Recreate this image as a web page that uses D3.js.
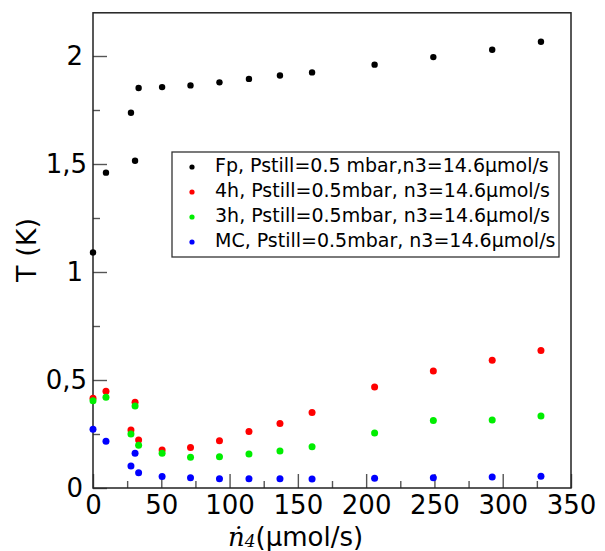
<!DOCTYPE html>
<head>
    <meta charset="utf-8">
    <style>
        body {
            margin: 0;
            background-color: #fff;
        }

        svg text {
            font-family: "DejaVu Sans", sans-serif;
            fill: #000;
        }
    </style>
</head>

<body>
    <div id="chart-area"></div>

    <script src="https://cdnjs.cloudflare.com/ajax/libs/d3/7.8.5/d3.min.js"></script>
    <script>
        // flow rate n4 (umol/s), shared by all four series
        var flow = [0, 9.5, 27.8, 30.8, 33.4, 50.6, 71.4, 92.6, 114.2, 136.9, 160.4, 206.2, 249.2, 292.3, 328]

        var tFp = [1.09, 1.46, 1.737, 1.515, 1.852, 1.856, 1.864, 1.878, 1.894, 1.910, 1.924, 1.960, 1.995, 2.029, 2.066]
        var t4h = [0.415, 0.448, 0.269, 0.397, 0.222, 0.176, 0.187, 0.219, 0.261, 0.299, 0.349, 0.468, 0.542, 0.591, 0.636]
        var t3h = [0.404, 0.420, 0.250, 0.380, 0.198, 0.161, 0.142, 0.145, 0.157, 0.171, 0.191, 0.255, 0.312, 0.315, 0.333]
        var tMC = [0.272, 0.216, 0.102, 0.161, 0.071, 0.053, 0.048, 0.043, 0.043, 0.043, 0.042, 0.045, 0.048, 0.051, 0.054]

        var seriesNames = [
            "Fp, Pstill=0.5 mbar,n3=14.6µmol/s",
            "4h, Pstill=0.5mbar, n3=14.6µmol/s",
            "3h, Pstill=0.5mbar, n3=14.6µmol/s",
            "MC, Pstill=0.5mbar, n3=14.6µmol/s"
        ]
        var seriesColors = ["#000000", "#ff0000", "#00ee00", "#0000ff"]

        var xTicks = [0, 50, 100, 150, 200, 250, 300, 350]
        var xMinor = [25, 75, 125, 175, 225, 275, 325]
        var yTicks = [0, 0.5, 1, 1.5, 2]
        var yMinor = [0.25, 0.75, 1.25, 1.75]

        var W = 605, H = 551
        var margins = { top: 12.8, right: 34, bottom: 63, left: 93 }

        var x = d3.scaleLinear().domain([0, 350]).range([margins.left, W - margins.right])
        var y = d3.scaleLinear().domain([0, 2.2]).range([H - margins.bottom, margins.top])

        var svg = d3.select("#chart-area").append("svg")
            .attr("width", W)
            .attr("height", H)

        var fmt = (d) => String(d).replace(".", ",")

        // x axis, ticks pointing in
        var gx = svg.append("g")
            .attr("transform", `translate(0,${y(0)})`)
            .call(d3.axisBottom(x).tickValues(xTicks).tickSize(-14).tickPadding(8).tickFormat(d3.format("d")))
        gx.select(".domain").remove()
        gx.selectAll(".tick text").attr("font-size", 26)
        gx.selectAll(".tick line").attr("stroke", "#555").attr("stroke-width", 1.4)

        var gxm = svg.append("g")
            .attr("transform", `translate(0,${y(0)})`)
            .call(d3.axisBottom(x).tickValues(xMinor).tickSize(-7).tickFormat(""))
        gxm.select(".domain").remove()
        gxm.selectAll(".tick line").attr("stroke", "#555").attr("stroke-width", 1.4)

        // y axis
        var gy = svg.append("g")
            .attr("transform", `translate(${x(0)},0)`)
            .call(d3.axisLeft(y).tickValues(yTicks).tickSize(-14).tickPadding(6).tickFormat(fmt))
        gy.select(".domain").remove()
        gy.selectAll(".tick text").attr("font-size", 26)
            .attr("dx", (d) => Number.isInteger(d) ? -4 : 0)
        gy.selectAll(".tick line").attr("stroke", "#555").attr("stroke-width", 1.4)

        var gym = svg.append("g")
            .attr("transform", `translate(${x(0)},0)`)
            .call(d3.axisLeft(y).tickValues(yMinor).tickSize(-7).tickFormat(""))
        gym.select(".domain").remove()
        gym.selectAll(".tick line").attr("stroke", "#555").attr("stroke-width", 1.4)

        // frame
        svg.append("rect")
            .attr("x", x(0))
            .attr("y", y(2.2))
            .attr("width", x(350) - x(0))
            .attr("height", y(0) - y(2.2))
            .attr("fill", "none")
            .attr("stroke", "#222")
            .attr("stroke-width", 1.5)

        // points
        var allSeries = [tFp, t4h, t3h, tMC]
        allSeries.forEach((vals, i) => {
            svg.append("g")
                .selectAll("circle")
                .data(vals.map((v, j) => ({ x: flow[j], y: v })))
                .join("circle")
                .attr("cx", (d) => x(d.x))
                .attr("cy", (d) => y(d.y))
                .attr("r", i == 0 ? 3.2 : 3.5)
                .attr("fill", seriesColors[i])
        })

        // legend
        var legend = svg.append("g").attr("transform", "translate(172,152)")
        legend.append("rect")
            .attr("width", 387)
            .attr("height", 105)
            .attr("fill", "#fff")
            .attr("stroke", "#333")
            .attr("stroke-width", 1.3)
        seriesNames.forEach((name, i) => {
            var row = legend.append("g").attr("transform", `translate(0,${20 + i * 25})`)
            row.append("circle")
                .attr("cx", 20)
                .attr("cy", -5)
                .attr("r", 2.6)
                .attr("fill", seriesColors[i])
            row.append("text")
                .attr("x", 43)
                .attr("font-size", 19)
                .text(name)
        })

        // axis titles
        svg.append("text")
            .attr("transform", "translate(36,250) rotate(-90)")
            .attr("text-anchor", "middle")
            .attr("font-size", 27)
            .text("T (K)")

        var xl = svg.append("text")
            .attr("x", 228)
            .attr("y", 546)
            .attr("font-size", 26)
        xl.append("tspan")
            .style("font-family", "'DejaVu Serif', serif")
            .style("font-style", "italic")
            .text("ṅ")
        xl.append("tspan")
            .style("font-family", "'DejaVu Serif', serif")
            .style("font-style", "italic")
            .attr("font-size", 17)
            .attr("dy", 1)
            .text("4")
        xl.append("tspan")
            .attr("dy", -1)
            .text("(µmol/s)")
    </script>
</body>
